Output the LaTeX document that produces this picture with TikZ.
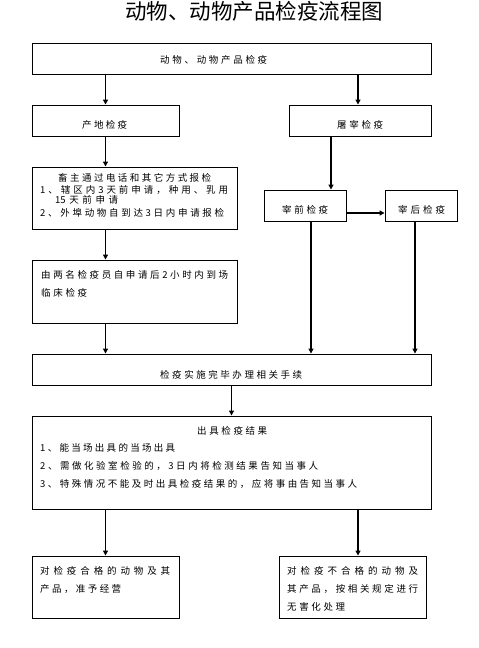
\documentclass[tikz,border=0pt]{standalone}
\usepackage{fontspec}
\setmainfont{Noto Sans CJK SC}
\usetikzlibrary{arrows.meta}
\makeatletter
\def\sp@first#1{#1\sp@rest}
\def\sp@rest#1{\ifx#1\relax\else\hfil#1\expandafter\sp@rest\fi}
\newcommand{\jl}[2]{\makebox[#1pt][s]{\sp@first#2\relax}}
\makeatother
\tikzset{
  box/.style={draw, line width=0.9pt, inner sep=0pt},
  txt/.style={inner sep=0pt, anchor=west, font=\fontsize{9.5}{11}\selectfont},
  arr/.style={line width=1.6pt, -{Triangle[length=5pt,width=5pt]}},
}
\begin{document}
\begin{tikzpicture}[x=1pt,y=-1pt]
\useasboundingbox (0,0) rectangle (479,648);
% title
\node[inner sep=0pt, font=\fontsize{21.5}{24}\selectfont] (title) at (254,11) {动物、动物产品检疫流程图};
% boxes
\node[box, minimum width=399pt, minimum height=31pt] (top) at (231.5,58.5) {};
\node[box, minimum width=147pt, minimum height=31pt] (cd) at (105.5,120.5) {};
\node[box, minimum width=142pt, minimum height=31pt] (tz) at (360,120.5) {};
\node[box, minimum width=205pt, minimum height=62pt] (xz) at (134.5,198) {};
\node[box, minimum width=82pt, minimum height=31pt] (zq) at (305,205.5) {};
\node[box, minimum width=72pt, minimum height=31pt] (zh) at (421,205.5) {};
\node[box, minimum width=205pt, minimum height=63pt] (lm) at (134.5,291.5) {};
\node[box, minimum width=399pt, minimum height=31pt] (ss) at (231.5,369.5) {};
\node[box, minimum width=399pt, minimum height=93pt] (cj) at (231.5,462.5) {};
\node[box, minimum width=147pt, minimum height=62pt] (hg) at (105.5,587) {};
\node[box, minimum width=147pt, minimum height=62pt] (bhg) at (352.5,587) {};
% texts
\node[txt] (ttop) at (160,60) {\jl{107}{动物、动物产品检疫}};
\node[txt] (tcd) at (82,125) {\jl{45}{产地检疫}};
\node[txt] (ttz) at (337,125) {\jl{46}{屠宰检疫}};
\node[txt] (tzq) at (282,210) {\jl{46}{宰前检疫}};
\node[txt] (tzh) at (398,210) {\jl{47}{宰后检疫}};
\node[txt] (txz1) at (58,178) {\jl{153}{畜主通过电话和其它方式报检}};
\node[txt] (txz2) at (40,190) {\jl{188}{1、辖区内3天前申请，种用、乳用}};
\node[txt] (txz3) at (55,200) {\jl{63}{{15}天前申请}};
\node[txt] (txz4) at (40,213) {\jl{184}{2、外埠动物自到达3日内申请报检}};
\node[txt] (tlm1) at (41,275) {\jl{187}{由两名检疫员自申请后2小时内到场}};
\node[txt] (tlm2) at (41,293) {\jl{46}{临床检疫}};
\node[txt] (tss) at (160,375) {\jl{142}{检疫实施完毕办理相关手续}};
\node[txt] (tcj0) at (197,431) {\jl{70}{出具检疫结果}};
\node[txt] (tcj1) at (40,448) {\jl{135}{1、能当场出具的当场出具}};
\node[txt] (tcj2) at (40,466) {\jl{278}{2、需做化验室检验的，3日内将检测结果告知当事人}};
\node[txt] (tcj3) at (40,484) {\jl{317}{3、特殊情况不能及时出具检疫结果的，应将事由告知当事人}};
\node[txt] (thg1) at (40,571) {\jl{130}{对检疫合格的动物及其}};
\node[txt] (thg2) at (40,589) {\jl{81}{产品，准予经营}};
\node[txt] (tbhg1) at (287,571) {\jl{131}{对检疫不合格的动物及}};
\node[txt] (tbhg2) at (287,589) {\jl{131}{其产品，按相关规定进行}};
\node[txt] (tbhg3) at (287,607) {\jl{58}{无害化处理}};
% connectors
\draw[arr] (top.south -| cd.north) -- (cd.north);
\draw[arr] ([xshift=-2pt]top.south -| tz.north) -- ([xshift=-2pt]tz.north);
\draw[arr] (cd.south) -- (cd.south |- xz.north);
\draw[arr] ([xshift=-29pt]tz.south) -- ([xshift=-29pt]tz.south |- zq.north);
\draw[arr] ([yshift=-7.5pt]zq.east) -- ([yshift=-7.5pt]zq.east -| zh.west);
\draw[arr] (xz.south -| cd.south) -- (lm.north -| cd.south);
\draw[arr] (lm.south -| cd.south) -- (ss.north -| cd.south);
\draw[arr] ([xshift=6pt]zq.south) -- ([xshift=6pt]zq.south |- ss.north);
\draw[arr] ([xshift=-6pt]zh.south) -- ([xshift=-6pt]zh.south |- ss.north);
\draw[arr] (ss.south) -- (cj.north);
\draw[arr] (cj.south -| hg.north) -- (hg.north);
\draw[arr] ([xshift=5.5pt]bhg.north |- cj.south) -- ([xshift=5.5pt]bhg.north);
\end{tikzpicture}
\end{document}
